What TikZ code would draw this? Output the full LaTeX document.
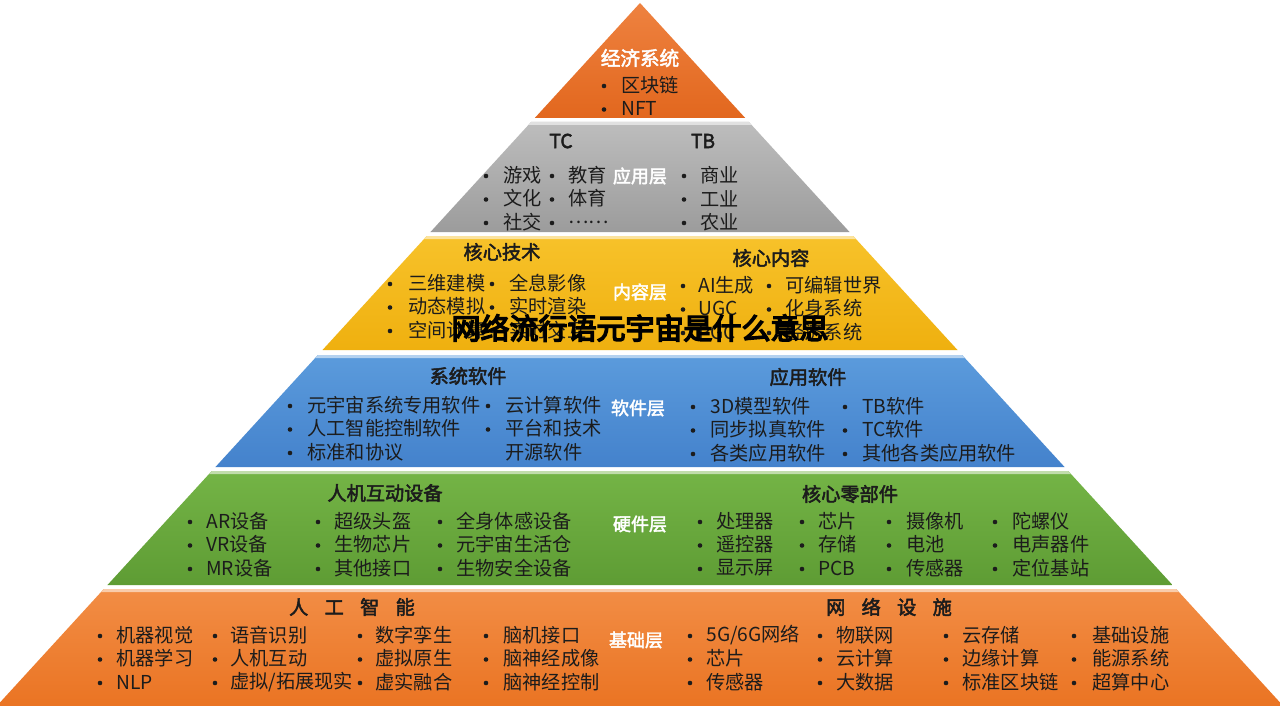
\documentclass[tikz,border=0pt]{standalone}
\usepackage{fontspec}
\setmainfont{Noto Sans CJK SC}[AutoFakeBold=2.5]
\newfontfamily\markfont{Noto Sans CJK SC}[FakeBold=5]
\usetikzlibrary{positioning}

\definecolor{ink}{HTML}{1C1C1C}
\definecolor{econtop}{HTML}{EE8240}
\definecolor{econbot}{HTML}{E2671E}
\definecolor{apptop}{HTML}{BDBDBD}
\definecolor{appbot}{HTML}{9C9C9C}
\definecolor{conttop}{HTML}{F7C22A}
\definecolor{contbot}{HTML}{EFB00F}
\definecolor{softtop}{HTML}{5B9BDC}
\definecolor{softbot}{HTML}{4482CC}
\definecolor{hardtop}{HTML}{74B446}
\definecolor{hardbot}{HTML}{5E9C34}
\definecolor{basetop}{HTML}{F28D45}
\definecolor{basebot}{HTML}{EA7423}

% trapezoid band of the pyramid between two heights (pixels)
\newcommand\tierband[4]{%
  \shade[top color=#3, bottom color=#4]
    ({640-0.915*(#1-3)},#1) -- ({640+0.915*(#1-3)},#1)
    -- ({640+0.915*(#2-3)},#2) -- ({640-0.915*(#2-3)},#2) -- cycle;
  \fill[#3!45!white]
    ({640-0.915*(#1-3)},#1) -- ({640+0.915*(#1-3)},#1)
    -- ({640+0.915*(#1)},{#1+3}) -- ({640-0.915*(#1)},{#1+3}) -- cycle;}

% column of bullet items
\newcommand\itemcol[5]{%
  \foreach \txt [count=\i] in {#5}{%
    \node[dot] (#1b\i) at (#3,{#2+1+23.5*(\i-1)}) {};
    \node[item] (#1t\i) at (#4,{#2+23.5*(\i-1)}) {\txt};}}

\begin{document}
\begin{tikzpicture}[
    x=0.5pt, y=-0.5pt,
    item/.style={anchor=west, inner sep=0pt, text=ink, font=\fontsize{9.6}{11}\selectfont},
    dot/.style={circle, fill=ink, inner sep=0pt, minimum size=2.3pt},
    heading/.style={inner sep=0pt, text=ink, font=\fontsize{9.6}{11}\selectfont\bfseries},
    tier/.style={inner sep=0pt, text=white, font=\fontsize{9}{11}\selectfont\bfseries},
    watermark/.style={inner sep=0pt, text=black, font=\fontsize{14.5}{16}\selectfont\markfont},
  ]
  \useasboundingbox[fill=white] (0,0) rectangle (1280,706);

  % pyramid bands
  \shade[top color=econtop, bottom color=econbot]
    (640,3) -- ({640+0.915*115},118) -- ({640-0.915*115},118) -- cycle;
  \tierband{122}{232}{apptop}{appbot}
  \tierband{236}{350}{conttop}{contbot}
  \tierband{355}{467}{softtop}{softbot}
  \tierband{471}{585}{hardtop}{hardbot}
  \tierband{589}{706}{basetop}{basebot}

  % economy system
  \node[tier, font=\fontsize{9.8}{11}\selectfont\bfseries] (econ) at (640,58) {经济系统};
  \itemcol{econ}{85}{604}{621}{区块链,NFT}

  % application layer
  \node[tier] (app) at (640,176) {应用层};
  \node[heading] (tc) at (561,141) {TC};
  \node[heading] (tb) at (703,141) {TB};
  \itemcol{game}{175}{486}{503}{游戏,文化,社交}
  \itemcol{edu}{175}{552}{568}{教育,体育,……}
  \itemcol{biz}{175}{684}{700}{商业,工业,农业}

  % content layer
  \node[tier] (cont) at (640,292) {内容层};
  \node[heading] (tech) at (502,252) {核心技术};
  \node[heading] (core) at (771,258) {核心内容};
  \itemcol{tech}{283}{390}{408}{三维建模,动态模拟,空间计算}
  \itemcol{techb}{283}{492}{509}{全息影像,实时渲染,实时交互}
  \itemcol{core}{285}{683}{698}{AI生成,UGC,PGC}
  \itemcol{coreb}{285}{769}{785}{可编辑世界,化身系统,经济系统}

  % software layer
  \node[tier] (soft) at (638,408) {软件层};
  \node[heading] (sys) at (468,376) {系统软件};
  \node[heading] (appsw) at (808,377) {应用软件};
  \itemcol{sys}{405}{290}{307}{元宇宙系统专用软件,人工智能控制软件,标准和协议}
  \itemcol{sysb}{405}{488}{505}{云计算软件,平台和技术}
  \node[item] (sysb3) at (505,452) {开源软件};
  \itemcol{appsw}{406}{693}{710}{3D模型软件,同步拟真软件,各类应用软件}
  \itemcol{appswb}{406}{845}{862}{TB软件,TC软件,其他各类应用软件}

  % hardware layer
  \node[tier] (hard) at (640,524) {硬件层};
  \node[heading] (hci) at (385,493) {人机互动设备};
  \node[heading] (part) at (850,494) {核心零部件};
  \itemcol{hci}{521}{190}{206}{AR设备,VR设备,MR设备}
  \itemcol{hcib}{521}{318}{334}{超级头盔,生物芯片,其他接口}
  \itemcol{hcic}{521}{440}{456}{全身体感设备,元宇宙生活仓,生物安全设备}
  \itemcol{part}{521}{700}{716}{处理器,遥控器,显示屏}
  \itemcol{partb}{521}{802}{818}{芯片,存储,PCB}
  \itemcol{partc}{521}{889}{906}{摄像机,电池,传感器}
  \itemcol{partd}{521}{995}{1012}{陀螺仪,电声器件,定位基站}

  % base layer
  \node[tier] (base) at (636,640) {基础层};
  \node[heading] (ai) at (352,607) {人\hspace{.85em}工\hspace{.85em}智\hspace{.85em}能};
  \node[heading] (net) at (889,607) {网\hspace{.85em}络\hspace{.85em}设\hspace{.85em}施};
  \itemcol{ai}{635}{100}{116}{机器视觉,机器学习,NLP}
  \itemcol{aib}{635}{215}{230}{语音识别,人机互动,虚拟/拓展现实}
  \itemcol{aic}{635}{360}{375}{数字孪生,虚拟原生,虚实融合}
  \itemcol{aid}{635}{486}{503}{脑机接口,脑神经成像,脑神经控制}
  \itemcol{net}{635}{690}{706}{5G/6G网络,芯片,传感器}
  \itemcol{netb}{635}{820}{836}{物联网,云计算,大数据}
  \itemcol{netc}{635}{946}{962}{云存储,边缘计算,标准区块链}
  \itemcol{netd}{635}{1074}{1092}{基础设施,能源系统,超算中心}

  % overlay caption
  \node[watermark] (mark) at (640,328) {网络流行语元宇宙是什么意思};
\end{tikzpicture}
\end{document}
